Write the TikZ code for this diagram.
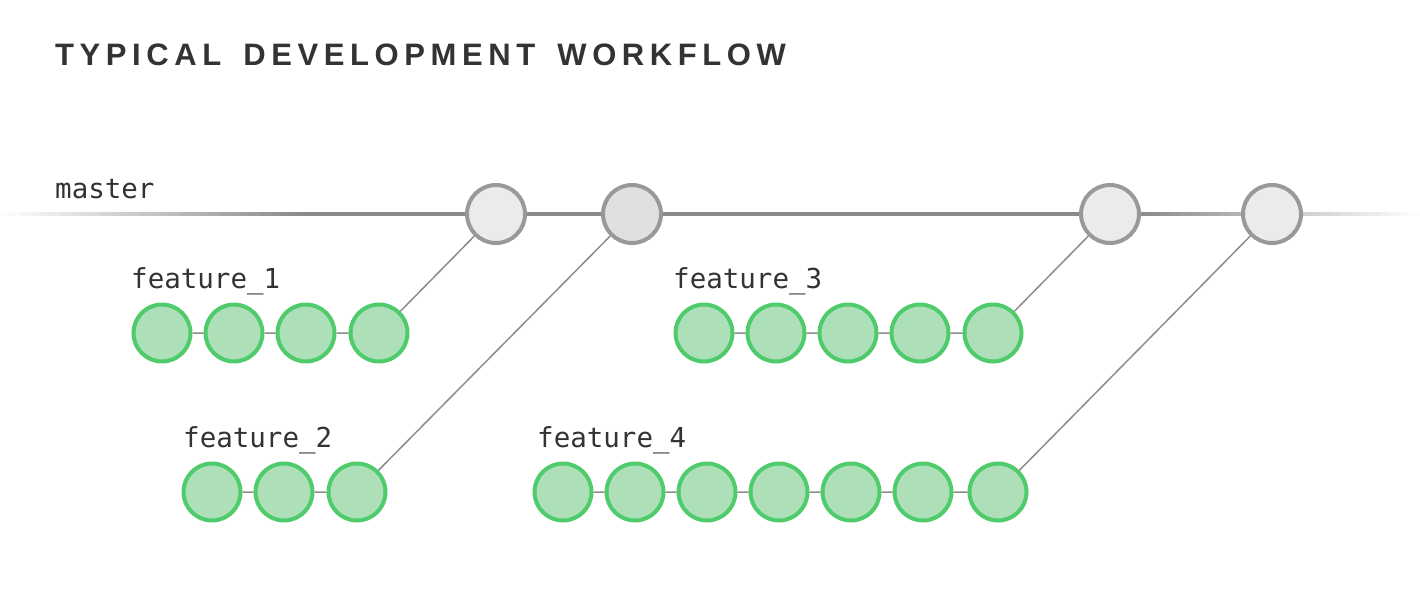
\documentclass[tikz,border=0pt]{standalone}
\usepackage{fontspec}
\setmainfont{Liberation Sans}
\newfontfamily\titlef{Liberation Sans}[LetterSpace=18]
\newfontfamily\monof{DejaVu Sans Mono}
\definecolor{txt}{HTML}{333333}
\definecolor{track}{HTML}{8A8A8A}
\definecolor{mstroke}{HTML}{999999}
\definecolor{mfill}{HTML}{EBEBEB}
\definecolor{mfilldark}{HTML}{E0E0E0}
\definecolor{gstroke}{HTML}{4FCB6C}
\definecolor{gfill}{HTML}{ADDFB8}
\definecolor{linkc}{HTML}{8C8C8C}
\begin{document}
\begin{tikzpicture}[x=1pt,y=-1pt,
  mnode/.style={circle,draw=mstroke,fill=mfill,line width=4pt,minimum size=58pt,inner sep=0pt},
  gnode/.style={circle,draw=gstroke,fill=gfill,line width=4pt,minimum size=57pt,inner sep=0pt},
  link/.style={draw=linkc,line width=1.5pt},
  lbl/.style={anchor=base west,inner sep=0pt,text=txt,font=\monof\fontsize{27.5}{30}\selectfont}]
\useasboundingbox (0,0) rectangle (1420,600);
% title
\node[anchor=base west,inner sep=0pt,text=txt,font=\titlef\bfseries\fontsize{31}{34}\selectfont] (title) at (55,65) {TYPICAL\hspace{8pt} DEVELOPMENT\hspace{8pt} WORKFLOW};
% master track with faded ends
\foreach \k in {0,...,29} {
  \pgfmathsetmacro{\p}{100*(\k+0.5)/30}
  \fill[track!\p!white] (\k*10,212) rectangle (\k*10+10.6,216);
}
\fill[track] (299.5,212) rectangle (1140.5,216);
\foreach \k in {0,...,27} {
  \pgfmathsetmacro{\p}{100-100*(\k+0.5)/28}
  \fill[track!\p!white] (1140+\k*10,212) rectangle (1150.6+\k*10,216);
}
\node[lbl] (mlabel) at (55,198) {master};
% master commits
\node[mnode] (m1) at (496,214) {};
\node[mnode,fill=mfilldark] (m2) at (632,214) {};
\node[mnode] (m3) at (1110,214) {};
\node[mnode] (m4) at (1272,214) {};
% feature_1
\node[lbl] (la) at (131,288) {feature\_1};
\foreach \i/\x in {1/162,2/234,3/306,4/379} \node[gnode] (a\i) at (\x,333) {};
% feature_2
\node[lbl] (lb) at (183,447) {feature\_2};
\foreach \i/\x in {1/212,2/284,3/357} \node[gnode] (b\i) at (\x,492) {};
% feature_3
\node[lbl] (lc) at (673,288) {feature\_3};
\foreach \i/\x in {1/704,2/776,3/848,4/920,5/993} \node[gnode] (c\i) at (\x,333) {};
% feature_4
\node[lbl] (ld) at (537,447) {feature\_4};
\foreach \i/\x in {1/563,2/635,3/707,4/779,5/851,6/923,7/998} \node[gnode] (d\i) at (\x,492) {};
% links
\draw[link] (a1)--(a2) (a2)--(a3) (a3)--(a4) (a4)--(m1);
\draw[link] (b1)--(b2) (b2)--(b3) (b3)--(m2);
\draw[link] (c1)--(c2) (c2)--(c3) (c3)--(c4) (c4)--(c5) (c5)--(m3);
\draw[link] (d1)--(d2) (d2)--(d3) (d3)--(d4) (d4)--(d5) (d5)--(d6) (d6)--(d7) (d7)--(m4);
\end{tikzpicture}
\end{document}
